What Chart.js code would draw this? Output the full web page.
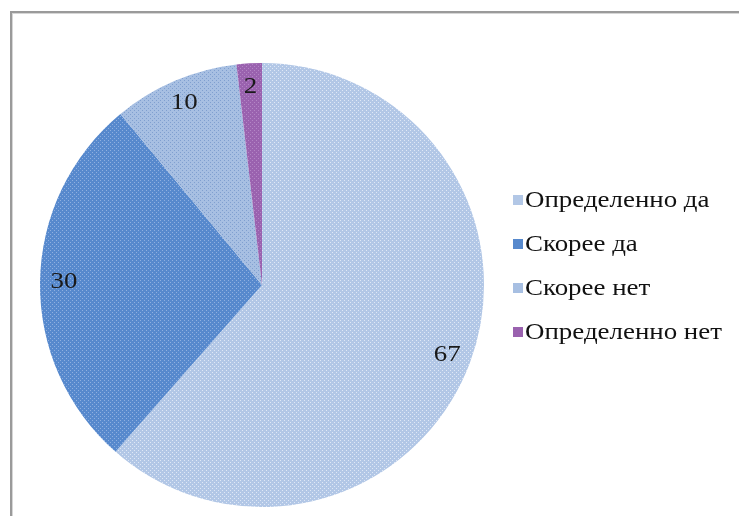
<!DOCTYPE html>
<html>
<head>
<meta charset="utf-8">
<script src="https://cdn.jsdelivr.net/npm/chart.js@4"></script>
<style>
  html, body { margin: 0; padding: 0; background: #fff; }
  #frame {
    position: absolute; left: 10px; top: 11px; width: 760px; height: 540px;
    border-left: 2px solid #9a9a9a; border-top: 2px solid #9a9a9a;
    box-shadow: inset 1px 1px 0 #d6d6d6;
  }
  #wrap { position: absolute; left: 0; top: 0; width: 739px; height: 516px; }
</style>
</head>
<body>
<div id="frame"></div>
<div id="wrap"><canvas id="chart"></canvas></div>
<script>
const labels = ["Определенно да", "Скорее да", "Скорее нет", "Определенно нет"];
const values = [67, 30, 10, 2];
const baseColors = ["#b2c7e6", "#5789cd", "#a7bfe2", "#9a62af"];
const dotColors = ["#dfe8f6", "#8fb0e0", "#7f9fcf", "#b486c6"];

const FONT = "23px 'Liberation Serif', 'Times New Roman', serif";
const STRETCH = 1.17; // the original text is drawn a bit wide

// small dotted fill like the original's texture
function dotted(base, dot, step) {
  const c = document.createElement("canvas");
  c.width = step; c.height = step;
  const g = c.getContext("2d");
  g.fillStyle = base;
  g.fillRect(0, 0, step, step);
  g.fillStyle = dot;
  g.fillRect(0, 0, 1, 1);
  g.fillRect(step / 2, step / 2, 1, 1);
  return g.createPattern(c, "repeat");
}
const fills = baseColors.map((b, i) => dotted(b, dotColors[i], 4));

function wideText(ctx, text, x, y, align) {
  ctx.save();
  ctx.translate(x, y);
  ctx.scale(STRETCH, 1);
  ctx.textAlign = align;
  ctx.fillText(text, 0, 0);
  ctx.restore();
}

const sliceLabels = {
  id: "sliceLabels",
  afterDatasetsDraw(chart) {
    const ctx = chart.ctx;
    const meta = chart.getDatasetMeta(0);
    ctx.save();
    ctx.font = FONT;
    ctx.fillStyle = "#1a1a1a";
    ctx.textBaseline = "middle";
    meta.data.forEach((arc, i) => {
      const p = arc.getProps(["x", "y", "startAngle", "endAngle", "outerRadius"], true);
      const mid = (p.startAngle + p.endAngle) / 2;
      const r = p.outerRadius - 24;
      wideText(ctx, String(values[i]), p.x + Math.cos(mid) * r, p.y + Math.sin(mid) * r, "center");
    });
    ctx.restore();
  }
};

const sideLegend = {
  id: "sideLegend",
  afterDraw(chart) {
    const ctx = chart.ctx;
    ctx.save();
    ctx.font = FONT;
    ctx.textBaseline = "middle";
    labels.forEach((lab, i) => {
      const y = 200 + i * 44;
      ctx.fillStyle = baseColors[i];
      ctx.fillRect(513, y - 5, 10, 10);
      ctx.fillStyle = "#111";
      wideText(ctx, lab, 525, y + 1, "left");
    });
    ctx.restore();
  }
};

new Chart(document.getElementById("chart"), {
  type: "pie",
  data: {
    labels: labels,
    datasets: [{
      data: values,
      backgroundColor: fills,
      borderWidth: 0,
    }],
  },
  options: {
    responsive: true,
    maintainAspectRatio: false,
    animation: false,
    layout: { padding: { left: 40, right: 255, top: 63, bottom: 9 } },
    plugins: {
      legend: { display: false },
      tooltip: { enabled: false },
    },
  },
  plugins: [sliceLabels, sideLegend],
});
</script>
</body>
</html>
